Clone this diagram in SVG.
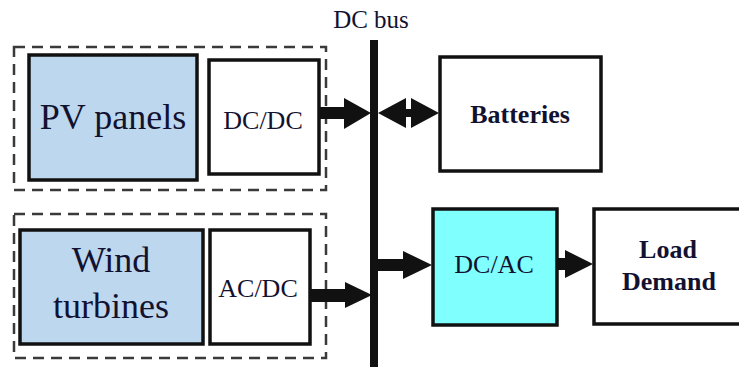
<svg xmlns="http://www.w3.org/2000/svg" width="739" height="367" viewBox="0 0 739 367">
<style>
.bg{fill:#ffffff}
.dash{fill:none;stroke:#3a3a3a;stroke-width:2.5;stroke-dasharray:11 7}
.box{stroke:#111;stroke-width:3.5}
.src{fill:#bdd7ee}
.wht{fill:#ffffff}
.cyan{fill:#80ffff}
.t{font-family:"Liberation Serif","Times New Roman",serif;fill:#121230;text-anchor:middle}
.big{font-size:36px}
.mid{font-size:26px}
.bold{font-weight:bold}
.arr{fill:#111}
</style>
<rect class="bg" x="0" y="0" width="739" height="367"/>
<g id="pv-group">
  <rect class="dash" x="14" y="47" width="312" height="143"/>
</g>
<g id="wind-group">
  <rect class="dash" x="14" y="214" width="312" height="144"/>
</g>
<g id="pv-panels">
  <rect class="box src" x="29" y="55" width="168" height="125"/>
  <text class="t big" x="113" y="129">PV panels</text>
</g>
<g id="dcdc">
  <rect class="box wht" x="209" y="60" width="110" height="114"/>
  <text class="t mid" x="263" y="129">DC/DC</text>
</g>
<g id="wind-turbines">
  <rect class="box src" x="20" y="230" width="183" height="114"/>
  <text class="t big" x="111" y="272">Wind</text>
  <text class="t big" x="111" y="318">turbines</text>
</g>
<g id="acdc">
  <rect class="box wht" x="210" y="230" width="100" height="114"/>
  <text class="t mid" x="258" y="297">AC/DC</text>
</g>
<g id="dc-bus">
  <rect class="arr" x="370" y="40" width="8" height="327"/>
  <text class="t" style="font-size:25px" x="371" y="28">DC bus</text>
</g>
<g id="batteries">
  <rect class="box wht" x="440" y="57" width="161" height="114"/>
  <text class="t mid bold" x="520" y="123">Batteries</text>
</g>
<g id="dcac">
  <rect class="box cyan" x="433" y="209" width="124" height="116"/>
  <text class="t mid" x="494" y="273">DC/AC</text>
</g>
<g id="load-demand">
  <rect class="box wht" x="594" y="209" width="160" height="115"/>
  <text class="t mid bold" x="668" y="258">Load</text>
  <text class="t mid bold" x="669" y="290">Demand</text>
</g>
<g id="connectors">
  <rect class="arr" x="319" y="107" width="27" height="12"/>
  <polygon class="arr" points="344,98 371,113 344,129"/>
  <polygon class="arr" points="378,113 406,98 406,109 411,109 411,98 439,113 411,128 411,117 406,117 406,128"/>
  <rect class="arr" x="374" y="259" width="31" height="12"/>
  <polygon class="arr" points="403,251 432,265 403,279"/>
  <rect class="arr" x="556" y="258" width="11" height="12"/>
  <polygon class="arr" points="565,250 593,264 565,278"/>
  <rect class="arr" x="310" y="289" width="37" height="13"/>
  <polygon class="arr" points="345,282 372,295 345,308"/>
</g>
</svg>
